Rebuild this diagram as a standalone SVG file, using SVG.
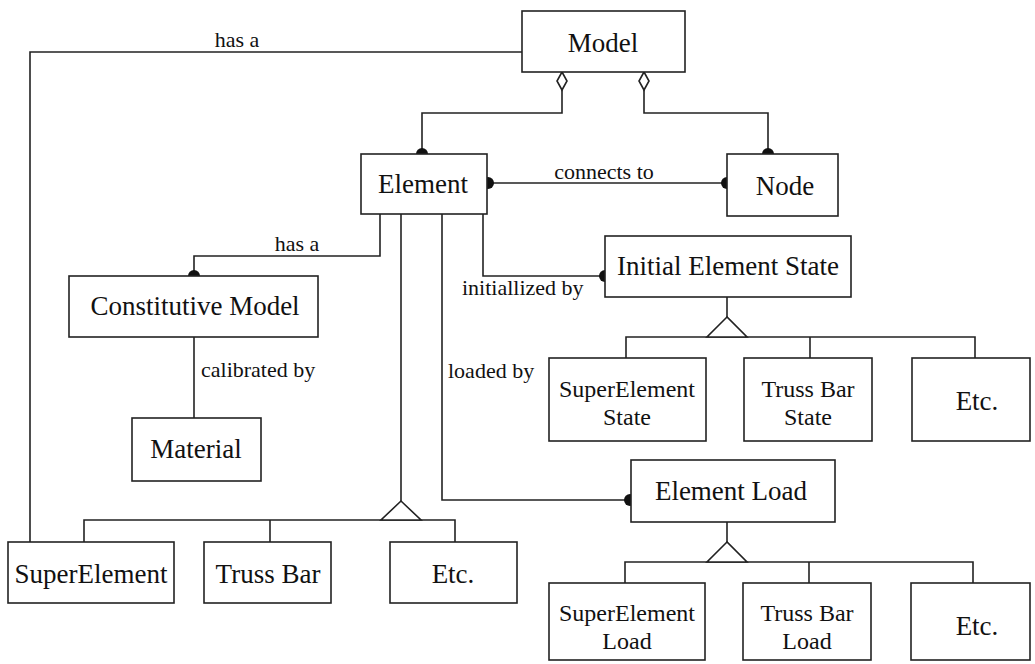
<svg xmlns="http://www.w3.org/2000/svg" width="1035" height="664" viewBox="0 0 1035 664">
<style>
.box{fill:#fff;stroke:#222;stroke-width:1.6}
.ln{fill:none;stroke:#222;stroke-width:1.6}
.dot{fill:#111}
.open{fill:#fff;stroke:#222;stroke-width:1.6}
.t{font-family:"Liberation Serif","Times New Roman",serif;font-size:27px;fill:#111;text-anchor:middle}
.t2{font-family:"Liberation Serif","Times New Roman",serif;font-size:24px;fill:#111;text-anchor:middle}
.e{font-family:"Liberation Serif","Times New Roman",serif;font-size:22px;fill:#111}
</style>
<rect width="1035" height="664" fill="#fff"/>
<g id="connectors">
<polyline class="ln" points="522,52 30,52 30,542"/>
<polyline class="ln" points="562,90 562,113 422,113 422,154"/>
<polyline class="ln" points="644,90 644,113 768,113 768,154"/>
<line class="ln" x1="487" y1="183" x2="727" y2="183"/>
<polyline class="ln" points="380,214 380,256 194,256 194,276"/>
<line class="ln" x1="194" y1="337" x2="194" y2="418"/>
<polyline class="ln" points="483,214 483,276 605,276"/>
<polyline class="ln" points="442,214 442,500 631,500"/>
<line class="ln" x1="401" y1="214" x2="401" y2="501"/>
<polyline class="ln" points="84,542 84,520 455,520 455,542"/>
<line class="ln" x1="270" y1="520" x2="270" y2="542"/>
<polygon class="open" points="401,501 381,520 421,520"/>
<line class="ln" x1="727" y1="297" x2="727" y2="317"/>
<polyline class="ln" points="626,358 626,337 975,337 975,358"/>
<line class="ln" x1="810" y1="337" x2="810" y2="358"/>
<polygon class="open" points="727,317 707,337 747,337"/>
<line class="ln" x1="727" y1="522" x2="727" y2="542"/>
<polyline class="ln" points="625,583 625,562 973,562 973,583"/>
<line class="ln" x1="809" y1="562" x2="809" y2="583"/>
<polygon class="open" points="727,542 707,562 747,562"/>
<polygon class="open" points="562,72 567,81 562,90 557,81"/>
<polygon class="open" points="644,72 649,81 644,90 639,81"/>
<circle class="dot" cx="422" cy="154" r="6"/>
<circle class="dot" cx="768" cy="154" r="6"/>
<circle class="dot" cx="488" cy="183" r="6"/>
<circle class="dot" cx="727" cy="183" r="6"/>
<circle class="dot" cx="194" cy="276" r="6"/>
<circle class="dot" cx="605" cy="276" r="6"/>
<circle class="dot" cx="630" cy="500" r="6"/>
<text class="e" x="237" y="47" text-anchor="middle">has a</text>
<text class="e" x="604" y="179" text-anchor="middle">connects to</text>
<text class="e" x="297" y="251" text-anchor="middle">has a</text>
<text class="e" x="201" y="377">calibrated by</text>
<text class="e" x="462" y="295">initiallized by</text>
<text class="e" x="448" y="378">loaded by</text>
</g>
<g id="model"><rect class="box" x="522" y="11" width="163" height="61"/><text class="t" x="603" y="52">Model</text></g>
<g id="element"><rect class="box" x="361" y="154" width="126" height="60"/><text class="t" x="423" y="193">Element</text></g>
<g id="node"><rect class="box" x="727" y="154" width="111" height="62"/><text class="t" x="785" y="195">Node</text></g>
<g id="constitutive-model"><rect class="box" x="69" y="276" width="249" height="61"/><text class="t" x="195" y="315">Constitutive Model</text></g>
<g id="material"><rect class="box" x="132" y="418" width="129" height="63"/><text class="t" x="196" y="458">Material</text></g>
<g id="initial-element-state"><rect class="box" x="605" y="236" width="246" height="61"/><text class="t" x="728" y="275">Initial Element State</text></g>
<g id="superelement-state"><rect class="box" x="549" y="358" width="157" height="83"/><text class="t2" x="627" y="397">SuperElement</text><text class="t2" x="627" y="425">State</text></g>
<g id="truss-bar-state"><rect class="box" x="744" y="358" width="128" height="83"/><text class="t2" x="808" y="397">Truss Bar</text><text class="t2" x="808" y="425">State</text></g>
<g id="etc-state"><rect class="box" x="912" y="358" width="118" height="83"/><text class="t" x="977" y="410">Etc.</text></g>
<g id="element-load"><rect class="box" x="631" y="460" width="204" height="62"/><text class="t" x="731" y="500">Element Load</text></g>
<g id="superelement-load"><rect class="box" x="549" y="583" width="156" height="77"/><text class="t2" x="627" y="621">SuperElement</text><text class="t2" x="627" y="649">Load</text></g>
<g id="truss-bar-load"><rect class="box" x="743" y="583" width="128" height="77"/><text class="t2" x="807" y="621">Truss Bar</text><text class="t2" x="807" y="649">Load</text></g>
<g id="etc-load"><rect class="box" x="911" y="583" width="119" height="77"/><text class="t" x="977" y="635">Etc.</text></g>
<g id="superelement"><rect class="box" x="8" y="542" width="166" height="61"/><text class="t" x="91" y="583">SuperElement</text></g>
<g id="truss-bar"><rect class="box" x="204" y="542" width="127" height="61"/><text class="t" x="268" y="583">Truss Bar</text></g>
<g id="etc"><rect class="box" x="390" y="542" width="127" height="61"/><text class="t" x="453" y="583">Etc.</text></g>
</svg>
